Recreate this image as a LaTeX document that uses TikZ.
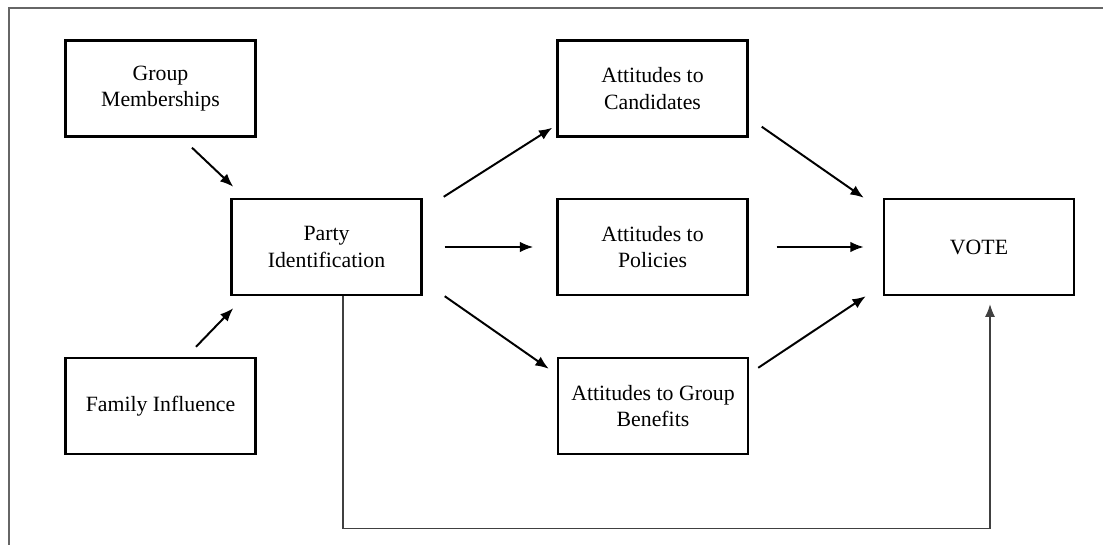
\documentclass[tikz,border=0pt]{standalone}
\usepackage{fontspec}
\setmainfont{Liberation Serif}
\usetikzlibrary{arrows.meta}

\begin{document}
\begin{tikzpicture}[
    x=0.025cm, y=-0.025cm,
    box/.style={
        draw,
        line width=1.7pt,
        minimum width=4.75cm,
        minimum height=2.4cm,
        align=center,
        font=\fontsize{15.5}{19}\selectfont
    },
    arrow/.style={
        line width=1.4pt,
        -{Latex[length=9.5pt,width=7.5pt]}
    }
]

    %------------------------------------------------
    % Page frame
    %------------------------------------------------

    \useasboundingbox (0,0) rectangle (1103,545);

    \draw[black!60,line width=1.2pt]
        (1103,8)--(9,8)--(9,545);

    %------------------------------------------------
    % Boxes
    %------------------------------------------------

    \node[box] (group)   at (160.5,88.5) {Group\\Memberships};
    \node[box] (family)  at (160.5,406)  {Family Influence};
    \node[box] (party)   at (326.5,247)  {Party\\Identification};

    \node[box] (cand)    at (652.5,88.5) {Attitudes to\\Candidates};
    \node[box] (policy)  at (652.5,247)  {Attitudes to\\Policies};
    \node[box] (benefit) at (653,406)    {Attitudes to Group\\Benefits};

    \node[box] (vote)    at (979,247)    {VOTE};

    %------------------------------------------------
    % Into party identification
    %------------------------------------------------

    \draw[arrow]
        ([shift={(31.5,10)}]group.south)
        --([shift={(3,-11)}]party.north west);

    \draw[arrow]
        ([shift={(35.5,-10)}]family.north)
        --([shift={(3,12)}]party.south west);

    %------------------------------------------------
    % Party identification to attitudes
    %------------------------------------------------

    \draw[arrow]
        ([shift={(21,-1)}]party.north east)
        --([shift={(-4,-10)}]cand.south west);

    \draw[arrow]
        ([xshift=22*0.025cm]party.east)
        --([xshift=-23*0.025cm]policy.west);

    \draw[arrow]
        ([shift={(22,0)}]party.south east)
        --([shift={(-8,12)}]benefit.north west);

    %------------------------------------------------
    % Attitudes to vote
    %------------------------------------------------

    \draw[arrow]
        ([shift={(13,-11)}]cand.south east)
        --([shift={(-19,0)}]vote.north west);

    \draw[arrow]
        ([xshift=28*0.025cm]policy.east)
        --([xshift=-19*0.025cm]vote.west);

    \draw[arrow]
        ([shift={(9,11)}]benefit.north east)
        --([shift={(-17,0)}]vote.south west);

    %------------------------------------------------
    % Direct path party -> vote
    %------------------------------------------------

    \draw[black!75,line width=0.8pt,-{Latex[length=9pt,width=7pt]}]
        ([xshift=16.5*0.025cm]party.south)
        --++(0,232)
        -|([shift={(11,8)}]vote.south);

\end{tikzpicture}
\end{document}
